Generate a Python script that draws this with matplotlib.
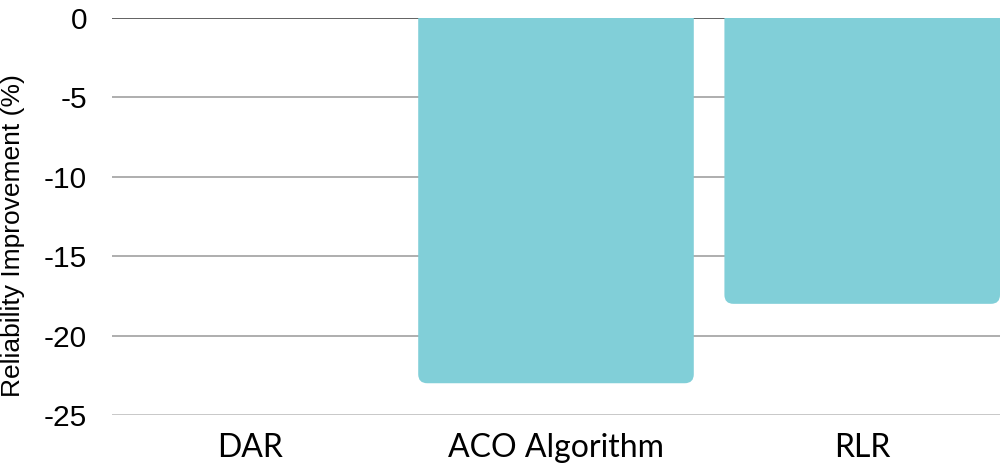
import matplotlib
matplotlib.use("Agg")
import matplotlib.pyplot as plt
from matplotlib.patches import FancyBboxPatch

# data
categories = ["DAR", "ACO Algorithm", "RLR"]
improvement = [0, -23, -18]
yticks = [0, -5, -10, -15, -20, -25]

bar_color = "#81cfd8"

fig = plt.figure(figsize=(10.05, 4.68), dpi=100)
ax = fig.add_axes([112 / 1005, 1 - 415 / 468, 888 / 1005, 397 / 468])

ax.set_xlim(-0.45, 2.45)
ax.set_ylim(-25, 0)

# gridlines
for t in yticks:
    col = "#555555" if t == 0 else "#a8a8a8"
    if t == -25:
        col = "#c4c4c4"
    ax.axhline(t, color=col, lw=1.3, zorder=1)

# bars (rounded at the bottom; top corners pushed outside the axes and clipped)
bars = ax.bar(range(len(categories)), improvement, width=0.9, color=bar_color, zorder=2)
px_x = 1 / 306.0
px_y = 25 / 397.0
r_px = 9
for b in bars:
    x0, y0 = b.get_x(), b.get_y()
    w, h = b.get_width(), b.get_height()
    b.remove()
    if h == 0:
        continue
    ybot, ytop = min(y0, y0 + h), max(y0, y0 + h)
    ytop += 3 * r_px * px_y
    p = FancyBboxPatch((x0, ybot), w, ytop - ybot,
                       boxstyle="round,pad=0,rounding_size=%f" % (r_px * px_x),
                       mutation_aspect=px_y / px_x,
                       fc=bar_color, ec="none", zorder=2)
    ax.add_patch(p)

for s in ax.spines.values():
    s.set_visible(False)

ax.set_yticks(yticks)
ax.set_yticklabels([str(t) for t in yticks], fontsize=21.5, family="Liberation Sans")
ax.set_xticks(range(len(categories)))
ax.set_xticklabels(categories, fontsize=23, family="Lato")
ax.tick_params(axis="both", length=0)
ax.tick_params(axis="y", pad=18)
ax.tick_params(axis="x", pad=13)
ax.set_ylabel("Reliability Improvement (%)", fontsize=19, family="Liberation Sans")
ax.yaxis.set_label_coords(-0.098, 0.452)

fig.savefig("out.png", dpi=100)
